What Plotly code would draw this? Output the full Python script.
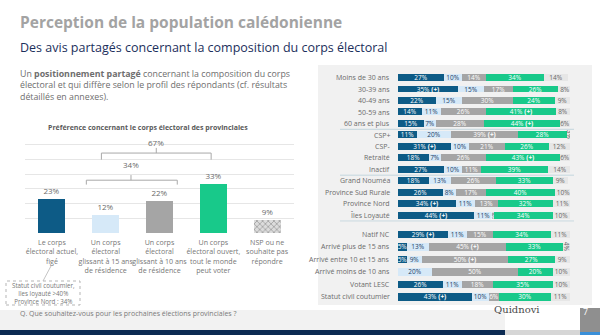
import plotly.graph_objects as go

W, H = 600, 335
FONT = "Open Sans"

# ---------------- data ----------------
left_categories = [
    "Le corps<br>électoral actuel,<br>figé",
    "Un corps<br>électoral<br>glissant à 15 ans<br>de résidence",
    "Un corps<br>électoral<br>glissant à 10 ans<br>de résidence",
    "Un corps<br>électoral ouvert,<br>tout le monde<br>peut voter",
    "NSP ou ne<br>souhaite pas<br>répondre",
]
left_values = [23, 12, 22, 33, 9]
bracket_small_label = "34%"
bracket_big_label = "67%"

top_rows = ["Moins de 30 ans", "30-39 ans", "40-49 ans", "50-59 ans", "60 ans et plus",
            "CSP+", "CSP-", "Retraité", "Inactif",
            "Grand Nouméa", "Province Sud Rurale", "Province Nord", "Îles Loyauté"]
top_actuel = [27, 35, 22, 14, 15, 11, 31, 18, 27, 18, 26, 34, 44]
top_15ans = [10, 15, 15, 11, 7, 20, 10, 7, 10, 13, 8, 11, 11]
top_10ans = [14, 17, 30, 26, 28, 39, 21, 26, 11, 26, 17, 13, 1]
top_ouvert = [34, 26, 24, 41, 44, 28, 26, 43, 39, 33, 40, 32, 34]
top_nsp = [14, 8, 9, 8, 6, 3, 12, 6, 14, 9, 10, 11, 10]

bottom_rows = ["Natif NC", "Arrivé plus de 15 ans", "Arrivé entre 10 et 15 ans",
               "Arrivé moins de 10 ans", "Votant LESC", "Statut civil coutumier"]
bottom_actuel = [29, 5, 5, 0, 26, 43]
bottom_15ans = [11, 13, 9, 20, 11, 10]
bottom_10ans = [15, 45, 50, 50, 18, 6]
bottom_ouvert = [34, 33, 27, 20, 35, 30]
bottom_nsp = [11, 4, 9, 10, 10, 11]

marked_actuel = ["30-39 ans", "CSP-", "Province Nord", "Îles Loyauté", "Natif NC", "Statut civil coutumier"]
marked_10ans = ["CSP+", "Arrivé plus de 15 ans", "Arrivé entre 10 et 15 ans"]
marked_ouvert = ["50-59 ans", "60 ans et plus", "Retraité"]

callout_lines = ["Statut civil coutumier,", "Iles loyauté >40%", "Province Nord : 34%"]

# ---------------- styles ----------------
C_DARK = "#0d5b86"
C_LIGHT = "#d6e9f8"
C_GRAY = "#a5a5a5"
C_GREEN = "#18c98a"
C_NSP = "#e6e6e6"
LEFT_COLORS = [C_DARK, C_LIGHT, C_GRAY, C_GREEN, "#dcdcdc"]


def px(x):
    return x / W


def py(y):
    return 1 - y / H


fig = go.Figure()

# left bars
fig.add_trace(go.Bar(
    x=left_categories, y=left_values, width=0.5,
    marker=dict(color=LEFT_COLORS,
                pattern=dict(shape=["", "", "", "", "x"], fgcolor="#eeeeee", size=4, solidity=0.3),
                line=dict(width=0)),
    text=[f"{v}%" for v in left_values], textposition="outside", cliponaxis=False,
    textfont=dict(size=8, color="#6a6a6a", family=FONT),
    xaxis="x", yaxis="y", showlegend=False, hoverinfo="skip",
))


def seg_texts(rows, vals, marked):
    out = []
    for r, v in zip(rows, vals):
        if v == 0:
            out.append("")
        elif r in marked:
            out.append(f"{v}% <b>(+)</b>")
        else:
            out.append(f"{v}%")
    return out


def add_group(rows, series, xa, ya):
    specs = [
        (series[0], C_DARK, "white", marked_actuel),
        (series[1], C_LIGHT, "#1d3c63", []),
        (series[2], C_GRAY, "white", marked_10ans),
        (series[3], C_GREEN, "white", marked_ouvert),
        (series[4], C_NSP, "#666666", []),
    ]
    for vals, col, tcol, marked in specs:
        fig.add_trace(go.Bar(
            y=rows, x=vals, orientation="h", width=0.6,
            marker=dict(color=col, line=dict(width=0)),
            text=seg_texts(rows, vals, marked), textposition="inside",
            insidetextanchor="middle", constraintext="none",
            textfont=dict(size=6.5, color=tcol, family=FONT),
            xaxis=xa, yaxis=ya, showlegend=False, hoverinfo="skip",
        ))


add_group(top_rows, [top_actuel, top_15ans, top_10ans, top_ouvert, top_nsp], "x2", "y2")
add_group(bottom_rows, [bottom_actuel, bottom_15ans, bottom_10ans, bottom_ouvert, bottom_nsp], "x3", "y3")

shapes = []
# right panel background
shapes.append(dict(type="rect", xref="paper", yref="paper", x0=px(318), x1=px(592), y0=py(305), y1=py(65),
                   fillcolor="#f1f1f1", line=dict(width=0), layer="below"))
# bottom band
shapes.append(dict(type="rect", xref="paper", yref="paper", x0=0, x1=1, y0=py(330), y1=py(310),
                   fillcolor="#f2f2f2", line=dict(width=0), layer="below"))
shapes.append(dict(type="rect", xref="paper", yref="paper", x0=0, x1=px(505), y0=0, y1=py(330),
                   fillcolor="#0b2a52", line=dict(width=0)))
shapes.append(dict(type="rect", xref="paper", yref="paper", x0=px(505), x1=px(580), y0=0, y1=py(330),
                   fillcolor="#d6d6d6", line=dict(width=0)))
shapes.append(dict(type="rect", xref="paper", yref="paper", x0=px(505), x1=px(580), y0=py(330), y1=py(308),
                   fillcolor="white", line=dict(width=0)))
shapes.append(dict(type="rect", xref="paper", yref="paper", x0=px(580), x1=1, y0=py(332), y1=py(308),
                   fillcolor="#8f8f8f", line=dict(width=0)))
shapes.append(dict(type="rect", xref="paper", yref="paper", x0=px(580), x1=1, y0=0, y1=py(332),
                   fillcolor="#3a8fd8", line=dict(width=0)))
# separators in right panel
for yv, yr in [(4.5, "y2"), (8.5, "y2"), (12.5, "y2")]:
    shapes.append(dict(type="line", xref="paper", yref=yr, x0=px(340), x1=px(574), y0=yv, y1=yv,
                       line=dict(color="#c3d6de", width=1)))
# brackets (left chart)
BR = dict(color="#a8a8a8", width=1)
for xa, xb, yl, ydown, xm, yup in [(0.64, 2.33, 36, 33, 1.47, 39.5), (0.92, 2.96, 54.5, 50, 1.94, 58)]:
    shapes.append(dict(type="line", xref="x", yref="y", x0=xa, x1=xb, y0=yl, y1=yl, line=BR))
    shapes.append(dict(type="line", xref="x", yref="y", x0=xa, x1=xa, y0=yl, y1=ydown, line=BR))
    shapes.append(dict(type="line", xref="x", yref="y", x0=xb, x1=xb, y0=yl, y1=ydown, line=BR))
    shapes.append(dict(type="line", xref="x", yref="y", x0=xm, x1=xm, y0=yl, y1=yup, line=BR))
# callout box
shapes.append(dict(type="rect", xref="paper", yref="paper", x0=px(6), x1=px(80), y0=py(305), y1=py(281),
                   line=dict(color="#b5b5b5", width=1, dash="dot"), fillcolor="white"))
shapes.append(dict(type="line", xref="paper", yref="paper", x0=px(43), x1=px(51), y0=py(281), y1=py(266),
                   line=dict(color="#b5b5b5", width=0.8)))

ann = []
ann.append(dict(text="<b>Perception de la population calédonienne</b>", x=px(18), y=py(22), xref="paper",
                yref="paper", xanchor="left", yanchor="middle", showarrow=False,
                font=dict(size=15.5, color="#a3a3a3", family=FONT)))
ann.append(dict(text="Des avis partagés concernant la composition du corps électoral", x=px(18), y=py(47),
                xref="paper", yref="paper", xanchor="left", yanchor="middle", showarrow=False,
                font=dict(size=12.5, color="#1c2f5c", family=FONT)))
ann.append(dict(text="Un <b>positionnement partagé</b> concernant la composition du corps<br>"
                     "électoral et qui diffère selon le profil des répondants (cf. résultats<br>"
                     "détaillés en annexes).",
                x=px(18), y=py(66), xref="paper", yref="paper", xanchor="left", yanchor="top", align="left",
                showarrow=False, font=dict(size=8.8, color="#6e6e6e", family=FONT)))
ann.append(dict(text="<b>Préférence concernant le corps électoral des provinciales</b>", x=px(148), y=py(128),
                xref="paper", yref="paper", xanchor="center", yanchor="middle", showarrow=False,
                font=dict(size=7, color="#5a5a5a", family=FONT)))
ann.append(dict(text=bracket_small_label, x=1.47, y=46.5, xref="x", yref="y", showarrow=False,
                font=dict(size=8, color="#6a6a6a", family=FONT)))
ann.append(dict(text=bracket_big_label, x=1.94, y=62, xref="x", yref="y", showarrow=False,
                font=dict(size=8, color="#6a6a6a", family=FONT)))
ann.append(dict(text="<br>".join(callout_lines), x=px(43), y=py(293), xref="paper", yref="paper",
                xanchor="center", yanchor="middle",
                showarrow=False, align="center", font=dict(size=6.2, color="#777777", family=FONT)))
ann.append(dict(text="Q. Que souhaitez-vous pour les prochaines élections provinciales ?", x=px(18), y=py(320),
                xref="paper", yref="paper", xanchor="left", showarrow=False,
                font=dict(size=7, color="#7a7a7a", family=FONT)))
ann.append(dict(text="Quidnovi", x=px(542), y=py(317), xref="paper", yref="paper", showarrow=False,
                font=dict(size=10, color="#4a4a4a", family="DejaVu Serif")))
ann.append(dict(text="7", x=px(590), y=py(320), xref="paper", yref="paper", showarrow=False,
                font=dict(size=9, color="white", family=FONT)))
# row labels of the right panel
for rows, yr in [(top_rows, "y2"), (bottom_rows, "y3")]:
    for r in rows:
        ann.append(dict(text=r, x=px(392), y=r, xref="paper", yref=yr, xanchor="right", yanchor="middle",
                        showarrow=False, font=dict(size=7, color="#6b6b6b", family=FONT)))

fig.update_layout(
    width=W, height=H, margin=dict(l=0, r=0, t=0, b=0),
    paper_bgcolor="white", plot_bgcolor="rgba(0,0,0,0)",
    barmode="stack", bargap=0, font=dict(family=FONT),
    shapes=shapes, annotations=ann,
    xaxis=dict(domain=[px(25), px(294)], type="category", showgrid=False, showline=False, ticks="",
               tickangle=0, tickfont=dict(size=7.1, color="#777777", family=FONT), ticklabelstandoff=4,
               fixedrange=True),
    yaxis=dict(domain=[py(233), py(233) + 66 * 1.467 / H], range=[0, 66], dtick=10, showgrid=True,
               gridcolor="#e6e6e6", gridwidth=1, showticklabels=False, zeroline=False, fixedrange=True),
    xaxis2=dict(domain=[px(398), px(570)], range=[0, 100], visible=False, anchor="y2"),
    yaxis2=dict(domain=[py(221.8), py(71.2)], autorange="reversed", type="category", anchor="x2",
                showgrid=False, showticklabels=False, ticks=""),
    xaxis3=dict(domain=[px(398), px(570)], range=[0, 100], visible=False, anchor="y3"),
    yaxis3=dict(domain=[py(303.3), py(227.7)], autorange="reversed", type="category", anchor="x3",
                showgrid=False, showticklabels=False, ticks=""),
)

fig.write_html("out.html")
